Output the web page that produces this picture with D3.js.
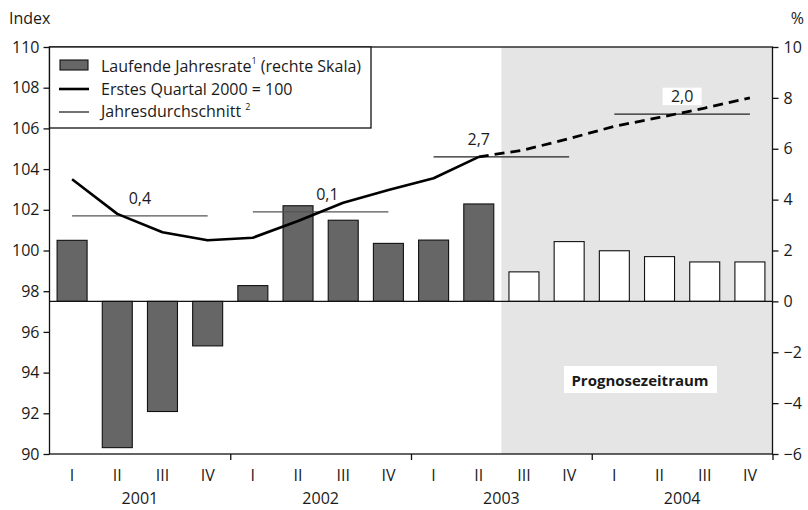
<!DOCTYPE html>
<html><head><meta charset="utf-8">
<script src="https://cdn.jsdelivr.net/npm/d3@7/dist/d3.min.js"></script>
<style>
body{margin:0;background:#fff;}
svg text{font-family:"Open Sans","Noto Sans",sans-serif;fill:#1a1a1a;}
</style></head>
<body><svg id="c" width="808" height="510"></svg>
<script>
// ---- data ----
const years = ["2001","2002","2003","2004"];
const quarters = ["I","II","III","IV"];
// Laufende Jahresrate (%), right scale
const rate = [2.4, -5.75, -4.33, -1.75, 0.62, 3.76, 3.19, 2.28, 2.41, 3.83, 1.16, 2.35, 1.99, 1.76, 1.55, 1.55];
// Index, Erstes Quartal 2000 = 100, left scale
const indexVals = [103.5, 101.8, 100.9, 100.5, 100.63, 101.45, 102.35, 102.97, 103.55, 104.6, 104.94, 105.5, 106.1, 106.54, 107.0, 107.5];
// Jahresdurchschnitt (index level) and its label (growth %)
const avgIndex = [101.7, 101.9, 104.6, 106.7];
const avgLabels = ["0,4", "0,1", "2,7", "2,0"];
const avgLabelPos = [2.0, 6.15, 9.5, 14.0]; // in quarter units
const forecastStart = 10; // 2003 III
const leftTicks = [90, 92, 94, 96, 98, 100, 102, 104, 106, 108, 110];
const rightTicks = [-6, -4, -2, 0, 2, 4, 6, 8, 10];

const svg = d3.select("#c");
const L = 49.5, R = 772.5, T = 47, B = 454;
const n = rate.length;
const xBand = d3.scaleBand().domain(d3.range(n)).range([L, R]).paddingInner(0.336).paddingOuter(0.168);
const xLin = d3.scaleLinear().domain([0, n]).range([L, R]);
const yL = d3.scaleLinear().domain([90, 110]).range([B, T]);
const yR = d3.scaleLinear().domain([-6, 10]).range([B, T]);

// forecast shading
svg.append("rect").attr("x", xLin(forecastStart)).attr("y", T)
  .attr("width", xLin(n) - xLin(forecastStart)).attr("height", B - T).attr("fill", "#e5e5e5");

// bars
svg.append("g").selectAll("rect").data(rate).join("rect")
  .attr("x", (d, i) => xBand(i)).attr("width", xBand.bandwidth())
  .attr("y", d => yR(Math.max(0, d))).attr("height", d => Math.abs(yR(d) - yR(0)))
  .attr("fill", (d, i) => i < forecastStart ? "#666" : "#fff")
  .attr("stroke", "#111").attr("stroke-width", 1.1);

// zero line
svg.append("line").attr("x1", L).attr("x2", R).attr("y1", yR(0)).attr("y2", yR(0))
  .attr("stroke", "#111").attr("stroke-width", 1.3);

// annual average lines
svg.append("g").selectAll("line").data(avgIndex).join("line")
  .attr("x1", (d, i) => xLin(i * 4 + 0.5)).attr("x2", (d, i) => xLin(i * 4 + 3.5))
  .attr("y1", d => yL(d)).attr("y2", d => yL(d))
  .attr("stroke", (d, i) => i < 2 ? "#555" : "#222").attr("stroke-width", 1.4);

// index line
const pts = indexVals.map((v, i) => [xLin(i + 0.5), yL(v)]);
const line = d3.line();
svg.append("path").attr("d", line(pts.slice(0, forecastStart)))
  .attr("fill", "none").attr("stroke", "#000").attr("stroke-width", 2.6).attr("stroke-linejoin", "round");
svg.append("path").attr("d", line(pts.slice(forecastStart - 1)))
  .attr("fill", "none").attr("stroke", "#000").attr("stroke-width", 2.8).attr("stroke-dasharray", "10,6");

// avg labels
avgLabels.forEach((t, i) => {
  const x = xLin(avgLabelPos[i]), y = yL(avgIndex[i]) - 18;
  if (i === 3) {
    svg.append("rect").attr("x", x - 19.5).attr("y", y - 8.5).attr("width", 39).attr("height", 17.5).attr("fill", "#fff");
  }
  svg.append("text").attr("x", x).attr("y", y).attr("text-anchor", "middle")
    .attr("dominant-baseline", "central").attr("font-size", 16).text(t);
});

// Prognosezeitraum label
const pg = svg.append("g");
pg.append("rect").attr("x", 564).attr("y", 366).attr("width", 153).attr("height", 27).attr("fill", "#fff");
pg.append("text").attr("x", 640).attr("y", 380).attr("text-anchor", "middle").attr("dominant-baseline", "central")
  .attr("font-size", 15).attr("font-weight", "bold").text("Prognosezeitraum");

// frame
svg.append("rect").attr("x", L).attr("y", T).attr("width", R - L).attr("height", B - T)
  .attr("fill", "none").attr("stroke", "#111").attr("stroke-width", 1.3);

// axes
const ax = g => { g.select(".domain").remove(); g.selectAll(".tick line").attr("stroke", "#111").attr("stroke-width", 1.3); g.selectAll("text").attr("font-size", 16).attr("fill", "#1a1a1a"); };
svg.append("g").attr("transform", `translate(${L},0)`)
  .call(d3.axisLeft(yL).tickValues(leftTicks).tickSize(6).tickPadding(4).tickFormat(d3.format("d"))).call(ax);
svg.append("g").attr("transform", `translate(${R},0)`)
  .call(d3.axisRight(yR).tickValues(rightTicks).tickSize(6).tickPadding(5).tickFormat(d3.format("d"))).call(ax);
svg.append("g").attr("transform", `translate(0,${B})`)
  .call(d3.axisBottom(xLin).tickValues([4, 8, 12, 16]).tickSize(6).tickFormat("")).call(ax);
svg.append("g").attr("transform", `translate(0,${B})`)
  .call(d3.axisBottom(xBand).tickSize(0).tickPadding(16).tickFormat(i => quarters[i % 4])).call(ax);
svg.append("g").selectAll("text").data(years).join("text")
  .attr("x", (d, i) => xLin(i * 4 + 2)).attr("y", 498).attr("text-anchor", "middle")
  .attr("dominant-baseline", "central").attr("font-size", 16).text(d => d);

// axis titles
svg.append("text").attr("x", 9).attr("y", 18).attr("dominant-baseline", "central").attr("font-size", 16).text("Index");
svg.append("text").attr("x", 804).attr("y", 18).attr("text-anchor", "end").attr("dominant-baseline", "central").attr("font-size", 16).text("%");

// legend
const lg = svg.append("g");
lg.append("rect").attr("x", L).attr("y", T).attr("width", 371 - L).attr("height", 128 - T)
  .attr("fill", "#fff").attr("stroke", "#111").attr("stroke-width", 1.3);
lg.append("rect").attr("x", 60).attr("y", 60).attr("width", 28).attr("height", 10).attr("fill", "#666").attr("stroke", "#111").attr("stroke-width", 1.1);
lg.append("line").attr("x1", 59).attr("x2", 89).attr("y1", 89).attr("y2", 89).attr("stroke", "#000").attr("stroke-width", 2.6);
lg.append("line").attr("x1", 59).attr("x2", 89).attr("y1", 112).attr("y2", 112).attr("stroke", "#111").attr("stroke-width", 1.2);
const t1 = lg.append("text").attr("x", 101).attr("y", 66).attr("dominant-baseline", "central").attr("font-size", 16);
t1.append("tspan").text("Laufende Jahresrate");
t1.append("tspan").attr("font-size", 9).attr("dy", -6).text("1");
t1.append("tspan").attr("dy", 6).text(" (rechte Skala)");
lg.append("text").attr("x", 101).attr("y", 89).attr("dominant-baseline", "central").attr("font-size", 16).text("Erstes Quartal 2000 = 100");
const t3 = lg.append("text").attr("x", 101).attr("y", 111).attr("dominant-baseline", "central").attr("font-size", 16);
t3.append("tspan").text("Jahresdurchschnitt ");
t3.append("tspan").attr("font-size", 9).attr("dy", -5).text("2");
</script></body></html>
